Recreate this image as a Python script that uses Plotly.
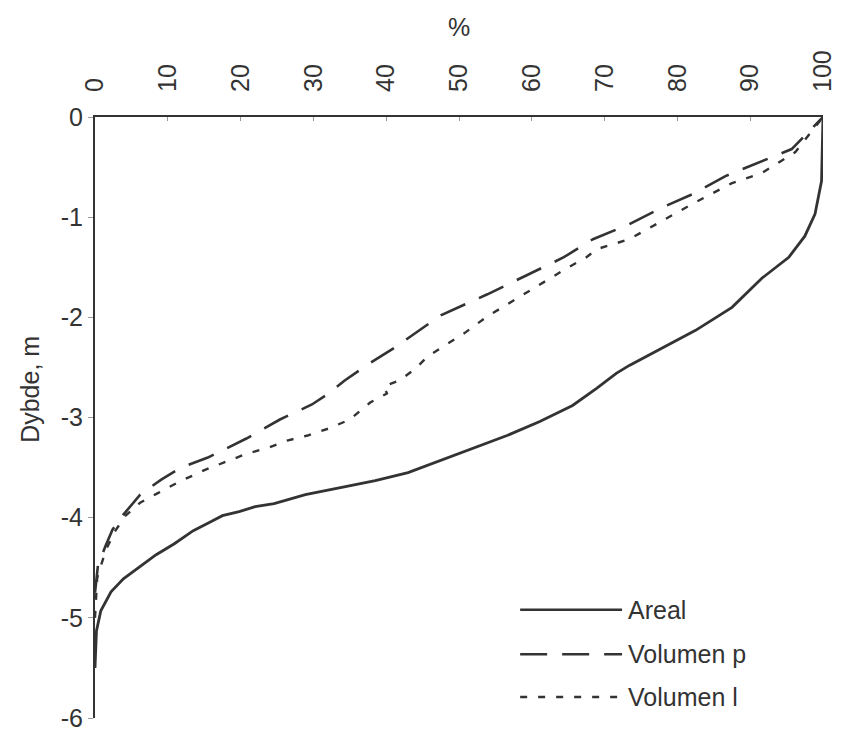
import plotly.graph_objects as go

# Areal
areal_pct = [0, 0.2, 0.8, 2.2, 3.9, 6.1, 8.4, 10.9, 13.5, 15.9, 17.5, 19.8, 22.0,
             24.6, 28.9, 34.4, 38.5, 43.0, 47.5, 52.0, 56.6, 61.1, 65.6, 68.9,
             71.6, 73.4, 78.0, 82.5, 87.5, 91.6, 95.3, 97.5, 98.9, 99.8, 100]
areal_depth = [-5.5, -5.13, -4.93, -4.74, -4.61, -4.49, -4.37, -4.26, -4.13, -4.04,
               -3.98, -3.94, -3.89, -3.86, -3.77, -3.69, -3.63, -3.55, -3.43, -3.31,
               -3.18, -3.04, -2.88, -2.71, -2.56, -2.48, -2.30, -2.13, -1.90, -1.61,
               -1.40, -1.19, -0.97, -0.64, 0]

# Volumen p
vol_p_pct = [0, 0.4, 1.4, 2.4, 3.9, 6.2, 9.1, 11.8, 15.5, 20.8, 25.4, 29.8, 32.1,
             34.3, 37.5, 41.2, 47.5, 53.9, 59.3, 64.4, 68.4, 73.4, 78.0, 82.1,
             86.6, 91.1, 95.7, 100]
vol_p_depth = [-4.75, -4.48, -4.29, -4.12, -3.97, -3.77, -3.62, -3.50, -3.40, -3.21,
               -3.02, -2.87, -2.76, -2.63, -2.47, -2.30, -1.98, -1.77, -1.58, -1.40,
               -1.22, -1.07, -0.90, -0.77, -0.59, -0.46, -0.32, 0]

# Volumen l
vol_l_pct = [0, 0.3, 1.5, 2.8, 4.2, 6.2, 8.5, 11.6, 15.2, 18.2, 20.9, 23.9, 26.4,
             29.2, 32.1, 35.0, 37.8, 40.1, 39.7, 41.8, 43.9, 45.7, 48.4, 50.7,
             53.9, 56.6, 59.3, 62.1, 64.8, 67.5, 68.9, 73.4, 78.0, 82.5, 87.5,
             91.6, 96.2, 100]
vol_l_depth = [-5.0, -4.6, -4.32, -4.13, -3.98, -3.85, -3.76, -3.64, -3.52, -3.44,
               -3.36, -3.30, -3.23, -3.18, -3.11, -3.02, -2.85, -2.76, -2.69, -2.63,
               -2.52, -2.39, -2.27, -2.16, -1.99, -1.87, -1.75, -1.63, -1.51, -1.40,
               -1.32, -1.22, -1.03, -0.85, -0.66, -0.56, -0.35, 0]

x_ticks = list(range(0, 101, 10))
y_ticks = [0, -1, -2, -3, -4, -5, -6]
y_labels = ["0", "-1", "-2", "-3", "-4", "-5", "-6"]

ink = "#333333"
font = "Liberation Sans, Arial, sans-serif"
dash_p = "27px,15px"
dash_l = "7px,11px"

fig = go.Figure()
fig.add_trace(go.Scatter(x=areal_pct, y=areal_depth, mode="lines", name="Areal",
                         line=dict(color=ink, width=2.8)))
fig.add_trace(go.Scatter(x=vol_p_pct, y=vol_p_depth, mode="lines", name="Volumen p",
                         line=dict(color=ink, width=2.6, dash=dash_p)))
fig.add_trace(go.Scatter(x=vol_l_pct, y=vol_l_depth, mode="lines", name="Volumen l",
                         line=dict(color=ink, width=2.4, dash=dash_l)))

# hand-made legend (long line samples like the original)
legend_rows = [("Areal", "solid", 0.180), ("Volumen p", dash_p, 0.106),
               ("Volumen l", dash_l, 0.035)]
for label, dash, yy in legend_rows:
    fig.add_shape(type="line", xref="paper", yref="paper", x0=0.584, x1=0.724,
                  y0=yy, y1=yy, line=dict(color=ink, width=2.6, dash=dash))
    fig.add_annotation(text=label, xref="paper", yref="paper", x=0.730, y=yy,
                       xanchor="left", yanchor="middle", showarrow=False,
                       font=dict(size=25, color=ink, family=font))

fig.add_annotation(text="%", xref="paper", yref="paper", x=0.5, y=1.0,
                   yshift=90, showarrow=False, yanchor="middle",
                   font=dict(size=25, color=ink, family=font))
fig.add_annotation(text="Dybde, m", xref="paper", yref="paper", x=0, y=0.546,
                   xshift=-65, textangle=-90, showarrow=False,
                   xanchor="center", yanchor="middle",
                   font=dict(size=25, color=ink, family=font))

# the page body adds an 8px offset, so margins are trimmed by 8 on top/left
fig.update_layout(
    width=864, height=745,
    margin=dict(l=87, r=49, t=109, b=35),
    paper_bgcolor="white", plot_bgcolor="white",
    showlegend=False,
    font=dict(family=font, size=25, color=ink),
    xaxis=dict(side="top", range=[0, 100], tickvals=x_ticks, tickangle=-90,
               showgrid=False, zeroline=False, showline=True, linecolor=ink,
               linewidth=2, ticks="inside", ticklen=4, tickcolor="#999999",
               ticklabelstandoff=18, automargin=False),
    yaxis=dict(range=[-6, 0], tickvals=y_ticks, ticktext=y_labels,
               showgrid=False, zeroline=False, showline=True, linecolor=ink,
               linewidth=2, ticks="outside", ticklen=5, tickcolor="#999999",
               automargin=False),
)

fig.write_html("out.html")
